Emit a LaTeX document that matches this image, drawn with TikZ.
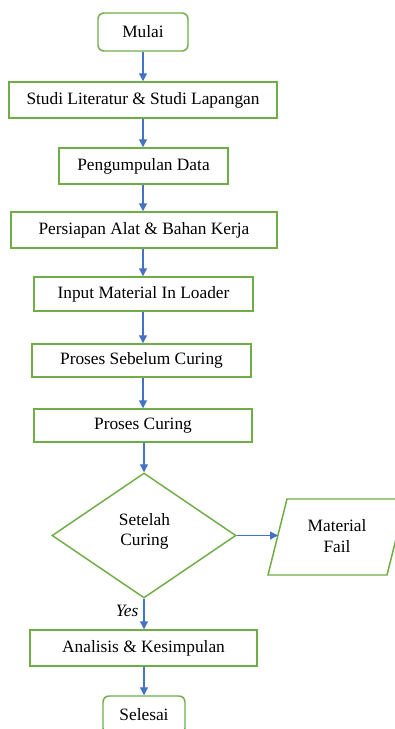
\documentclass[tikz,border=0pt]{standalone}
\usepackage{fontspec}
\setmainfont{Liberation Serif}
\usetikzlibrary{shapes.geometric,arrows.meta}
\definecolor{boxgreen}{HTML}{70AD47}
\definecolor{arrowblue}{HTML}{4472C4}
\begin{document}
\begin{tikzpicture}[x=0.75pt,y=-0.75pt,
  every node/.style={font=\fontsize{13}{15.5}\selectfont, text=black},
  procbox/.style={draw=boxgreen, line width=1.1pt, fill=white, inner sep=0pt},
  termbox/.style={procbox, rounded corners=4.5pt},
  decbox/.style={draw=boxgreen, line width=1.1pt, shape=diamond, inner sep=0pt, align=center},
  flow/.style={draw=arrowblue, line width=0.9pt, -{Triangle[width=6pt,length=6pt]}}]
\useasboundingbox (0,0) rectangle (394,729);
\node[termbox, minimum width=67.5pt, minimum height=28.5pt] (mulai) at (143,32) {Mulai};
\node[procbox, minimum width=201pt, minimum height=27pt] (studi) at (143,100) {Studi Literatur \& Studi Lapangan};
\node[procbox, minimum width=126.75pt, minimum height=27pt] (kumpul) at (143.5,166) {Pengumpulan Data};
\node[procbox, minimum width=199.5pt, minimum height=27pt] (siap) at (144,230) {Persiapan Alat \& Bahan Kerja};
\node[procbox, minimum width=164.25pt, minimum height=25.5pt] (input) at (143.5,294) {Input Material In Loader};
\node[procbox, minimum width=164.25pt, minimum height=24.75pt] (sebelum) at (141.5,360.5) {Proses Sebelum Curing};
\node[procbox, minimum width=163.5pt, minimum height=24.75pt] (curing) at (143,425.5) {Proses Curing};
\node[decbox, minimum width=138pt, minimum height=93.75pt] (cek) at (144,535.5) {};
\node[align=center] (cektext) at (144.5,531.5) {Setelah\\Curing};
\draw[draw=boxgreen, line width=1.1pt] (268,575) -- (387,575) -- (406,499) -- (287,499) -- cycle;
\node[align=center] (fail) at (337,536) {Material\\Fail};
\coordinate (failin) at (278,535.5);
\node[procbox, minimum width=170.25pt, minimum height=27pt] (analisis) at (143.5,648) {Analisis \& Kesimpulan};
\node[termbox, minimum width=61.5pt, minimum height=28.5pt] (selesai) at (144,715) {Selesai};
\node[font=\fontsize{13}{15.5}\selectfont\itshape] (yes) at (127,611) {Yes};
\draw[flow] (mulai) -- (studi);
\draw[flow] (studi) -- (kumpul.north -| studi.south);
\draw[flow] (kumpul.south -| studi.south) -- (siap.north -| studi.south);
\draw[flow] (siap.south -| studi.south) -- (input.north -| studi.south);
\draw[flow] (input.south -| studi.south) -- (sebelum.north -| studi.south);
\draw[flow] (sebelum.south -| studi.south) -- (curing.north -| studi.south);
\draw[flow] (curing.south -| cek.north) -- (cek.north);
\draw[flow] (cek.east) -- (failin);
\draw[flow] (cek.south) -- (analisis.north -| cek.south);
\draw[flow] (analisis.south -| selesai.north) -- (selesai.north);
\end{tikzpicture}
\end{document}
